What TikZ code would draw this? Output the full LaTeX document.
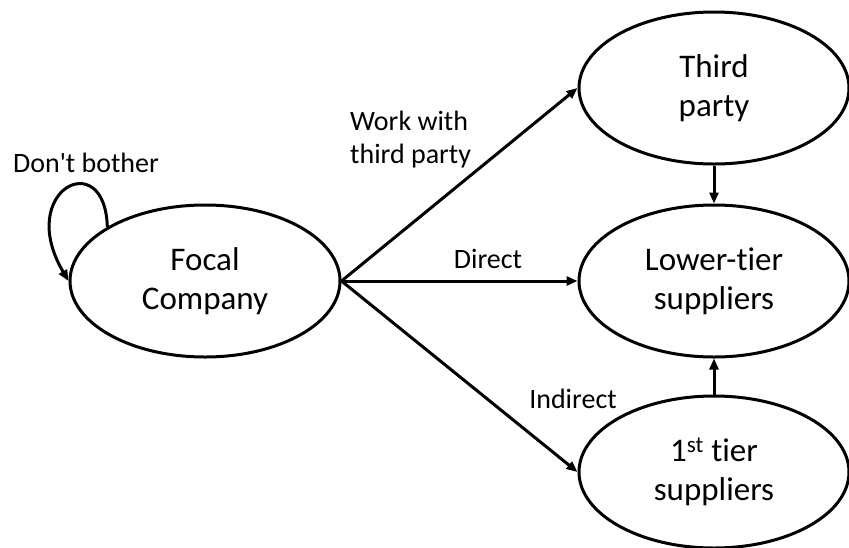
\documentclass[tikz,border=0pt]{standalone}
\usepackage{fontspec}
\setmainfont{Carlito}[Ligatures=NoCommon]
\usetikzlibrary{shapes,arrows.meta}

\begin{document}
\begin{tikzpicture}[x=1pt,y=-1pt,
		party/.style={draw,ellipse,line width=3pt,minimum width=270pt,minimum height=152pt,inner sep=0pt,align=center,font=\fontsize{33}{39}\selectfont},
		lbl/.style={inner sep=0pt,font=\fontsize{28}{33}\selectfont},
		link/.style={line width=3pt,->,>={Triangle[length=11pt,width=9pt]}}]
		\useasboundingbox (0,0) rectangle (849,547);
		
		\node[party] at (205,281) (fc) {Focal\\Company};
		\node[party] at (714,88)  (tp) {Third\\party};
		\node[party] at (714,281) (lt) {Lower-tier\\suppliers};
		\node[party] at (714,472) (ft) {1\textsuperscript{st} tier\\suppliers};
		
		\node[lbl,anchor=base] at (86,172) (bother) {Don\textquotesingle t bother};
		\node[lbl,align=left,anchor=west] at (350,140) (work) {Work with\\third party};
		\node[lbl,anchor=base] at (488,268) (direct) {Direct};
		\node[lbl,anchor=base] at (573,408) (indirect) {Indirect};
		
		\draw[link] (fc.151) .. controls (105,145) and (15,190) .. (fc.west);
		\draw[link] (fc.east) -- (tp.west);
		\draw[link] (fc.east) -- (lt.west);
		\draw[link] (fc.east) -- (ft.west);
		\draw[link] (tp.south) -- (lt.north);
		\draw[link] (ft.north) -- (lt.south);
	\end{tikzpicture}
\end{document}
